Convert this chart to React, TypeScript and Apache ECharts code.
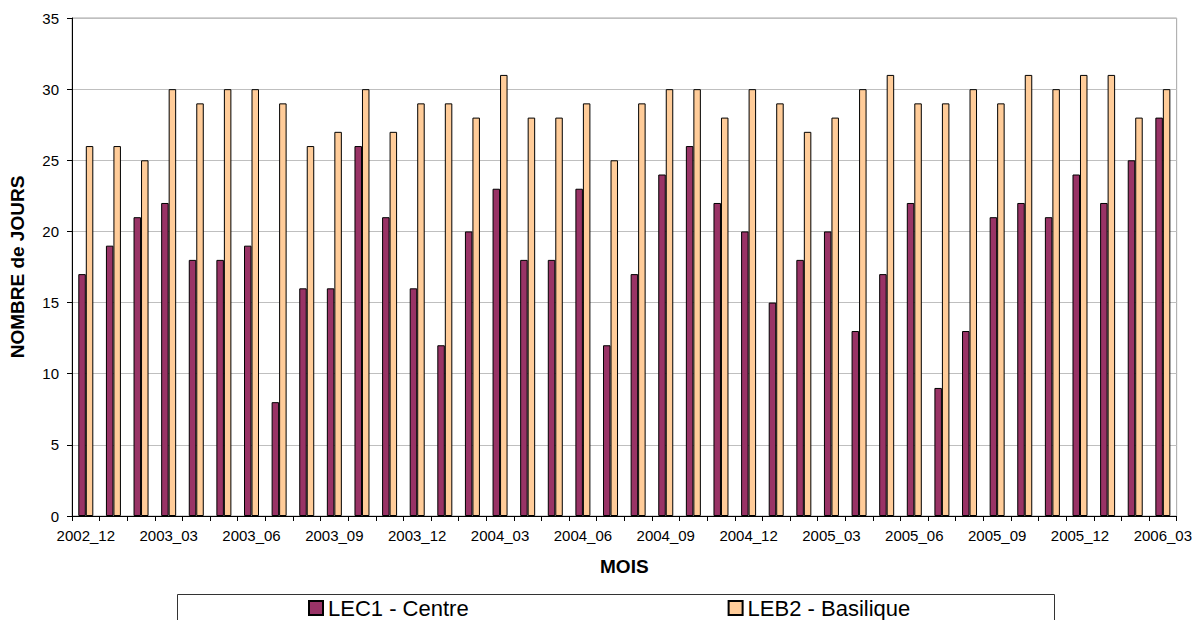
import React, { useEffect, useRef } from "react";
import * as echarts from "echarts";

const months = [
  "2002_12",
  "2003_01", "2003_02", "2003_03", "2003_04", "2003_05", "2003_06",
  "2003_07", "2003_08", "2003_09", "2003_10", "2003_11", "2003_12",
  "2004_01", "2004_02", "2004_03", "2004_04", "2004_05", "2004_06",
  "2004_07", "2004_08", "2004_09", "2004_10", "2004_11", "2004_12",
  "2005_01", "2005_02", "2005_03", "2005_04", "2005_05", "2005_06",
  "2005_07", "2005_08", "2005_09", "2005_10", "2005_11", "2005_12",
  "2006_01", "2006_02", "2006_03",
];

const lec1Centre = [
  17, 19, 21, 22, 18, 18, 19, 8, 16, 16, 26, 21, 16, 12, 20, 23, 18, 18, 23, 12,
  17, 24, 26, 22, 20, 15, 18, 20, 13, 17, 22, 9, 13, 21, 22, 21, 24, 22, 25, 28,
];

const leb2Basilique = [
  26, 26, 25, 30, 29, 30, 30, 29, 26, 27, 30, 27, 29, 29, 28, 31, 28, 28, 29, 25,
  29, 30, 30, 28, 30, 29, 27, 28, 30, 31, 29, 29, 30, 29, 31, 30, 31, 31, 28, 30,
];

const seriesNames = ["LEC1 - Centre", "LEB2 - Basilique"];
const yAxisName = "NOMBRE de JOURS";
const xAxisName = "MOIS";

const FONT = "'Liberation Sans', Arial, sans-serif";

export default function App() {
  const ref = useRef<HTMLDivElement>(null);

  useEffect(() => {
    document.body.style.margin = "0";
    if (!ref.current) return;
    const chart = echarts.init(ref.current, null, { renderer: "svg" });
    chart.setOption({
      animation: false,
      backgroundColor: "#ffffff",
      textStyle: { fontFamily: FONT, color: "#000" },
      grid: {
        left: 70,
        right: 17,
        top: 18,
        bottom: 104,
        show: true,
        borderColor: "#a6a6a6",
        borderWidth: 1,
        backgroundColor: "transparent",
      },
      legend: {
        data: seriesNames,
        left: 308,
        top: 597,
        padding: 0,
        itemGap: 259,
        itemWidth: 14,
        itemHeight: 14,
        icon: "rect",
        textStyle: { fontSize: 22, color: "#000", fontFamily: FONT },
      },
      graphic: [
        {
          type: "rect",
          shape: { x: 177.5, y: 594.5, width: 877, height: 60 },
          style: { fill: "none", stroke: "#333", lineWidth: 1 },
          silent: true,
        },
      ],
      xAxis: {
        type: "category",
        data: months,
        boundaryGap: true,
        name: xAxisName,
        nameLocation: "middle",
        nameGap: 41,
        nameTextStyle: { fontSize: 19, fontWeight: "bold", color: "#000", fontFamily: FONT },
        axisLine: { show: true, lineStyle: { color: "#000", width: 1 } },
        axisTick: { show: true, interval: 0, length: 5, lineStyle: { color: "#000" } },
        axisLabel: { interval: 2, fontSize: 15, color: "#000", margin: 12, fontFamily: FONT },
        splitLine: { show: false },
      },
      yAxis: {
        type: "value",
        min: 0,
        max: 35,
        interval: 5,
        name: yAxisName,
        nameLocation: "middle",
        nameGap: 45,
        nameTextStyle: { fontSize: 19, fontWeight: "bold", color: "#000", fontFamily: FONT },
        axisLine: { show: true, lineStyle: { color: "#000", width: 1 } },
        axisTick: { show: true, length: 5, lineStyle: { color: "#000" } },
        axisLabel: { fontSize: 15, color: "#000", margin: 13, fontFamily: FONT },
        splitLine: { show: true, lineStyle: { color: "#bfbfbf", width: 1 } },
      },
      series: [
        {
          name: seriesNames[0],
          type: "bar",
          data: lec1Centre,
          barWidth: 7.5,
          barGap: "0%",
          itemStyle: { color: "#993366", borderColor: "#000", borderWidth: 1 },
        },
        {
          name: seriesNames[1],
          type: "bar",
          data: leb2Basilique,
          barWidth: 7.5,
          barGap: "0%",
          itemStyle: { color: "#FFCC99", borderColor: "#000", borderWidth: 1 },
        },
      ],
    });
    return () => chart.dispose();
  }, []);

  return <div ref={ref} style={{ width: 1195, height: 620 }} />;
}
